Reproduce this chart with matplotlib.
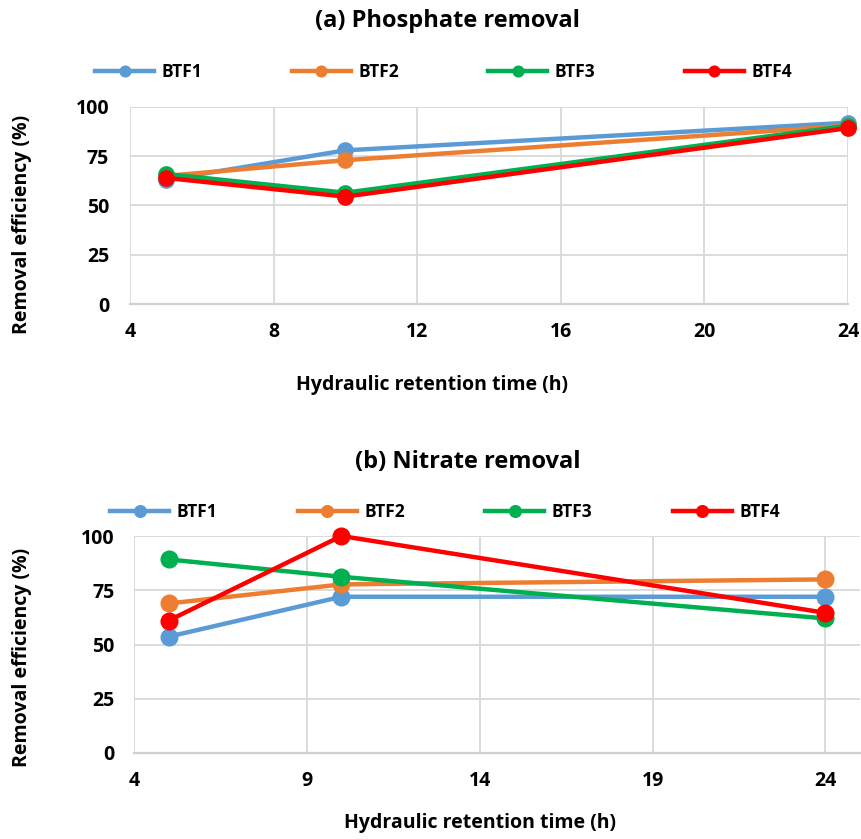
import matplotlib
matplotlib.use("Agg")
import matplotlib.pyplot as plt

plt.rcParams['font.family'] = ['Open Sans', 'DejaVu Sans']
plt.rcParams['font.weight'] = 'bold'

hrt = [5, 10, 24]
series_names = ['BTF1', 'BTF2', 'BTF3', 'BTF4']
colors = ['#5B9BD5', '#ED7D31', '#00B050', '#FF0000']

phosphate = {
    'BTF1': [63, 78, 92],
    'BTF2': [65, 73, 90.5],
    'BTF3': [66, 56.5, 90.5],
    'BTF4': [64, 54.5, 89.3],
}
nitrate = {
    'BTF1': [53.6, 72, 72],
    'BTF2': [68.9, 77.7, 80],
    'BTF3': [89.2, 81.2, 62],
    'BTF4': [61, 100, 64.6],
}

yticks = [0, 25, 50, 75, 100]
xticks_a = [4, 8, 12, 16, 20, 24]
xticks_b = [4, 9, 14, 19, 24]

W, H = 862, 839
fig = plt.figure(figsize=(W / 100, H / 100), dpi=100)

def px_axes(l, t, r, b):
    return fig.add_axes([l / W, 1 - b / H, (r - l) / W, (b - t) / H])

def ftext(x, y, s, size, rot=0):
    fig.text(x / W, 1 - y / H, s, ha='center', va='center', fontsize=size,
             fontweight='bold', rotation=rot)

def style(ax, xticks, xlim, xpad, ypad):
    ax.set_xlim(*xlim)
    ax.set_ylim(0, 100)
    ax.set_xticks(xticks)
    ax.set_yticks(yticks)
    ax.grid(True, color='#D9D9D9', linewidth=1.3)
    ax.set_axisbelow(True)
    for s in ['top', 'right', 'left']:
        ax.spines[s].set_visible(False)
    ax.spines['bottom'].set_color('#D0D0D0')
    ax.spines['bottom'].set_linewidth(1.6)
    ax.tick_params(axis='x', length=0, labelsize=14, pad=xpad)
    ax.tick_params(axis='y', length=0, labelsize=14, pad=ypad)
    for lab in ax.get_xticklabels() + ax.get_yticklabels():
        lab.set_fontweight('bold')

def draw(ax, data, ms):
    handles = []
    for name, c in zip(series_names, colors):
        h, = ax.plot(hrt, data[name], color=c, linewidth=3.2, marker='o',
                     markersize=ms, label=name, clip_on=False, zorder=3)
        handles.append(h)
    return handles

def legend(handles, x0, x1, yc):
    fig.legend(handles=handles, labels=series_names, loc='center left', ncol=4,
               mode='expand', bbox_to_anchor=(x0 / W, 1 - yc / H, (x1 - x0) / W, 0.0),
               frameon=False, handlelength=3.4, handletextpad=0.45, borderaxespad=0,
               markerscale=0.7, borderpad=0, prop={'weight': 'bold', 'size': 12.5})

# (a)
ax1 = px_axes(130, 107, 848, 304)
h1 = draw(ax1, phosphate, 11)
style(ax1, xticks_a, (4, 24), 13, 15)
ftext(447, 21, '(a) Phosphate removal', 17)
legend(h1, 95, 792, 72)
ftext(432, 385, 'Hydraulic retention time (h)', 14)
ftext(22, 224, 'Removal efficiency (%)', 14, rot=90)

# (b)
ax2 = px_axes(134, 536, 860, 753)
h2 = draw(ax2, nitrate, 12)
style(ax2, xticks_b, (4, 25), 13, 14)
ftext(468, 462, '(b) Nitrate removal', 17)
legend(h2, 110, 780, 512)
ftext(480, 823, 'Hydraulic retention time (h)', 14)
ftext(22, 657, 'Removal efficiency (%)', 14, rot=90)

fig.savefig('out.png', dpi=100)
